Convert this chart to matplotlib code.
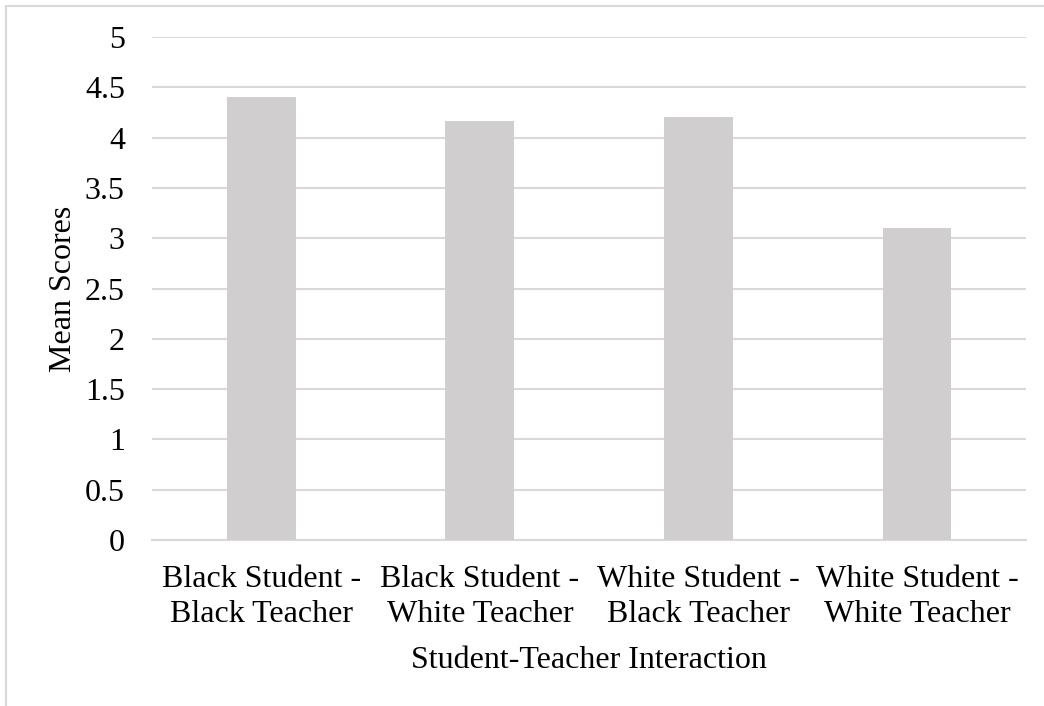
import matplotlib.pyplot as plt
from matplotlib.patches import Rectangle

categories = ["Black Student -\nBlack Teacher", "Black Student -\nWhite Teacher",
              "White Student -\nBlack Teacher", "White Student -\nWhite Teacher"]
means = [4.40, 4.17, 4.20, 3.10]
yticks = [0, 0.5, 1, 1.5, 2, 2.5, 3, 3.5, 4, 4.5, 5]
ytick_labels = ["0", "0.5", "1", "1.5", "2", "2.5", "3", "3.5", "4", "4.5", "5"]

plt.rcParams['font.family'] = ['Liberation Serif', 'DejaVu Serif']
FS = 23

fig = plt.figure(figsize=(10.44, 7.06), dpi=100)
ax = fig.add_axes([0.1456, 0.235, 0.8374, 0.7126])

ax.bar(range(len(categories)), means, width=0.315, color="#D0CECF", zorder=3)
ax.set_xlim(-0.5, len(categories) - 0.5)
ax.set_ylim(0, 5)
ax.set_yticks(yticks)
ax.set_yticklabels(ytick_labels)
ax.set_xticks(range(len(categories)))
ax.set_xticklabels(categories, linespacing=1.27)
ax.tick_params(axis='both', length=0, labelsize=FS, colors="black")
ax.tick_params(axis='y', pad=19.5)
ax.tick_params(axis='x', pad=18)

ax.grid(axis='y', color="#D9D9D9", linewidth=1.5, zorder=0)
for s in ["top", "right", "left"]:
    ax.spines[s].set_visible(False)
ax.spines["bottom"].set_color("#D9D9D9")
ax.spines["bottom"].set_linewidth(1.5)

ax.set_ylabel("Mean Scores", fontsize=FS)
ax.set_xlabel("Student-Teacher Interaction", fontsize=FS)
ax.yaxis.set_label_coords(-0.085, 0.5)
ax.xaxis.set_label_coords(0.5, -0.211)

# outer chart frame (only left and top visible)
fig.patches.append(Rectangle((6 / 1044, -0.1), 1.2, 1.1 - 6 / 706, transform=fig.transFigure,
                             fill=False, edgecolor="#D9D9D9", linewidth=1.5))

fig.savefig("out.png", dpi=100)
